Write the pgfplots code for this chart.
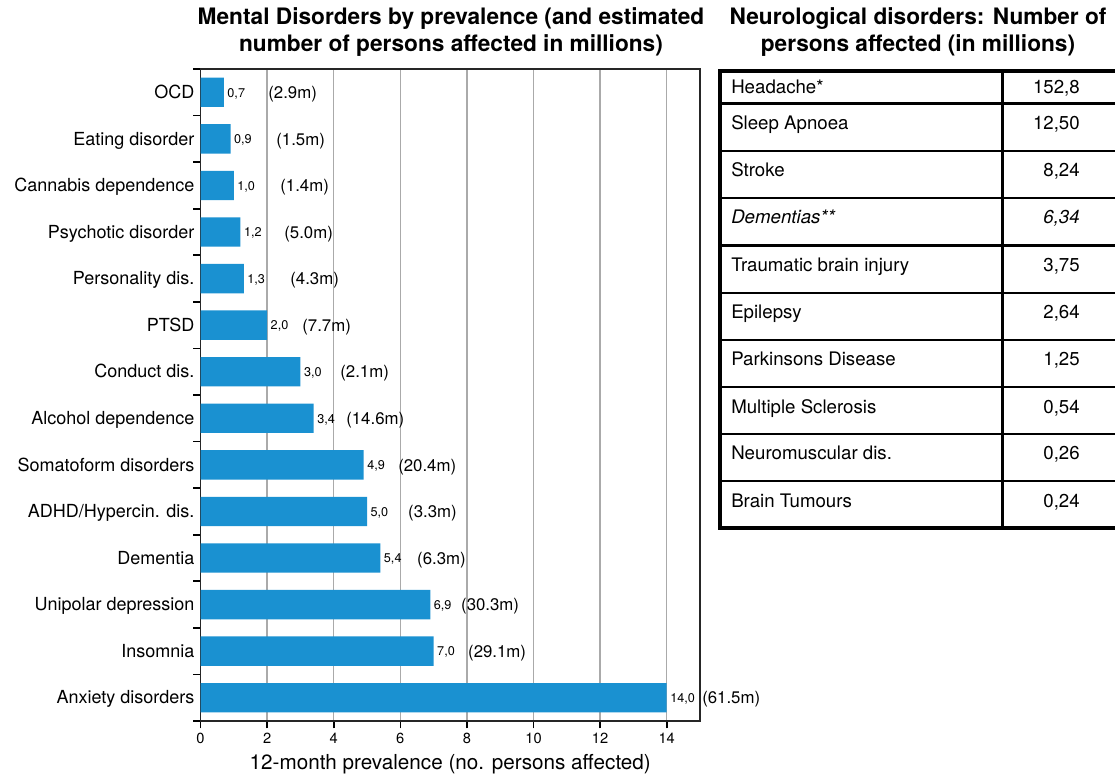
\documentclass[border=0pt]{standalone}
\usepackage{fontspec}
\setmainfont{TeX Gyre Heros}
\usepackage{pgfplots}
\pgfplotsset{compat=1.18}
\definecolor{barblue}{RGB}{26,145,209}
\definecolor{gridgray}{RGB}{170,170,170}
\begin{document}
\begin{tikzpicture}
\begin{scope}[x=0.75pt,y=-0.75pt]
\useasboundingbox (0,0) rectangle (1115,775);
% titles
\node[font=\fontsize{17}{20.25}\selectfont\bfseries, align=center, inner sep=0pt] at (451,32)
  {Mental Disorders by prevalence (and estimated\\number of persons affected in millions)};
\node[font=\fontsize{17}{20.25}\selectfont\bfseries, align=center, inner sep=0pt] at (918,32)
  {Neurological disorders: Number of\\persons affected (in millions)};
% table
\draw[line width=2pt] (1002.5,70.5) -- (1002.5,527.5);
\foreach \yy in {103.5,151,198,245.5,293,340,387,434,481}
  \draw[line width=2pt] (720,\yy) -- (1120,\yy);
\draw[line width=3pt] (1120,70.5) -- (719.5,70.5) -- (719.5,527.5) -- (1120,527.5);
\begin{scope}[every node/.style={font=\fontsize{14}{16}\selectfont, inner sep=0pt, text height=0.72em, text depth=0pt}, yshift=-1.5pt]
\node[anchor=west] at (731,87) {Headache*};            \node[anchor=east] at (1080,87) {152,8};
\node[anchor=west] at (731,123) {Sleep Apnoea};        \node[anchor=east] at (1080,123) {12,50};
\node[anchor=west] at (731,170) {Stroke};              \node[anchor=east] at (1080,170) {8,24};
\node[anchor=west] at (731,217) {\itshape Dementias**}; \node[anchor=east] at (1080,217) {\itshape 6,34};
\node[anchor=west] at (731,265) {Traumatic brain injury}; \node[anchor=east] at (1080,265) {3,75};
\node[anchor=west] at (731,312) {Epilepsy};            \node[anchor=east] at (1080,312) {2,64};
\node[anchor=west] at (731,359) {Parkinsons Disease};  \node[anchor=east] at (1080,359) {1,25};
\node[anchor=west] at (731,407) {Multiple Sclerosis};  \node[anchor=east] at (1080,407) {0,54};
\node[anchor=west] at (731,453) {Neuromuscular dis.};  \node[anchor=east] at (1080,453) {0,26};
\node[anchor=west] at (731,501) {Brain Tumours};       \node[anchor=east] at (1080,501) {0,24};
\end{scope}
\end{scope}

\begin{axis}[
  at={(150.4pt,-540.75pt)}, anchor=south west,
  scale only axis, width=374.6pt, height=489pt,
  xmin=0, xmax=15, ymin=-0.5, ymax=13.5, y dir=reverse,
  clip=false,
  axis line style={black!85, line width=1.1pt},
  xtick={0,2,...,14},
  ytick={-0.5,0.5,...,13.5},
  yticklabels={},
  extra y ticks={0,...,13},
  extra y tick labels={OCD, Eating disorder, Cannabis dependence, Psychotic disorder, Personality dis., PTSD, Conduct dis., Alcohol dependence, Somatoform disorders, ADHD/Hypercin. dis., Dementia, Unipolar depression, Insomnia, Anxiety disorders},
  extra y tick style={grid=none, major tick length=0pt, tick style={draw=none},
    yticklabel style={font=\fontsize{13.5}{15}\selectfont, text height=0.72em, text depth=0pt, yshift=-1pt, xshift=-1pt}},
  xtick align=outside, ytick align=outside, xtick pos=bottom, ytick pos=left,
  major tick length=5.5pt,
  tick style={draw=black, line width=1.2pt},
  xmajorgrids, major grid style={gridgray, line width=1.1pt},
  /pgf/number format/assume math mode=true,
  xticklabel style={font=\fontsize{11}{12}\selectfont},
  xlabel={12-month prevalence (no. persons affected)},
  xlabel style={font=\fontsize{15.5}{18}\selectfont, yshift=-1pt},
]
\addplot[xbar, bar width=22pt, fill=barblue, draw=none,
  nodes near coords, point meta=explicit symbolic,
  nodes near coords style={font=\fontsize{9.5}{10}\selectfont, anchor=west, inner sep=0pt, xshift=2.5pt, text height=0.72em, text depth=0pt}]
coordinates {
(0.7,0) [0,7]
(0.9,1) [0,9]
(1.0,2) [1,0]
(1.2,3) [1,2]
(1.3,4) [1,3]
(2.0,5) [2,0]
(3.0,6) [3,0]
(3.4,7) [3,4]
(4.9,8) [4,9]
(5.0,9) [5,0]
(5.4,10) [5,4]
(6.9,11) [6,9]
(7.0,12) [7,0]
(14.0,13) [14,0]
};
\addplot[draw=none, mark=none,
  nodes near coords, point meta=explicit symbolic, nodes near coords align={horizontal},
  nodes near coords style={font=\fontsize{12.6}{14}\selectfont, anchor=west, inner sep=0pt, text height=0.72em, text depth=0pt, yshift=-1pt}]
coordinates {
(2.03,0) [(2.9m)]
(2.27,1) [(1.5m)]
(2.39,2) [(1.4m)]
(2.51,3) [(5.0m)]
(2.69,4) [(4.3m)]
(3.05,5) [(7.7m)]
(4.19,6) [(2.1m)]
(4.37,7) [(14.6m)]
(5.93,8) [(20.4m)]
(6.23,9) [(3.3m)]
(6.50,10) [(6.3m)]
(7.82,11) [(30.3m)]
(8.03,12) [(29.1m)]
(15.06,13) [(61.5m)]
};
\end{axis}
\end{tikzpicture}
\end{document}
